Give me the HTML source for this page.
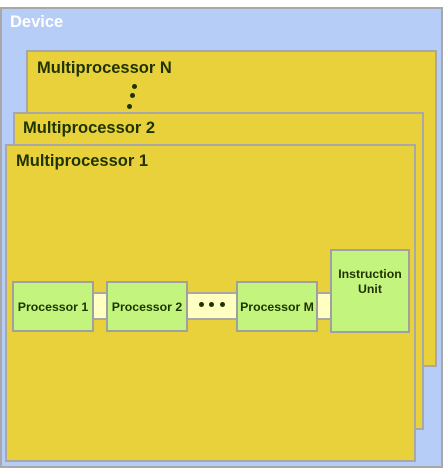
<!DOCTYPE html>
<html><head><style>
body{margin:0;width:448px;height:474px;background:#fff;position:relative;font-family:"Liberation Sans",sans-serif;font-weight:bold;overflow:hidden}
div{position:absolute;box-sizing:border-box}
.mp{background:#e8d13b;border:2px solid #a8a8a8}
.t{color:#1f3300;font-size:16.5px;white-space:nowrap}
.p{background:#c2f47e;border:2px solid #a0a0a0;color:#1f3300;font-size:12.3px;display:flex;align-items:center;justify-content:center;text-align:center}
.d{width:5px;height:5px;border-radius:50%;background:#1f3300}
</style></head><body>
<div style="left:0;top:7px;width:443px;height:461px;background:#b6cdf7;border:2px solid #a8a8a8"></div>
<div class="t" style="left:10px;top:13px;color:#fff">Device</div>
<div class="mp" style="left:26px;top:50px;width:411px;height:317px"></div>
<div class="t" style="left:37px;top:59px">Multiprocessor N</div>
<div class="d" style="left:132px;top:84px"></div>
<div class="d" style="left:130px;top:93px"></div>
<div class="d" style="left:127px;top:104px"></div>
<div class="mp" style="left:13px;top:112px;width:411px;height:318px"></div>
<div class="t" style="left:23px;top:119px">Multiprocessor 2</div>
<div class="mp" style="left:5px;top:144px;width:411px;height:318px"></div>
<div class="t" style="left:16px;top:152px">Multiprocessor 1</div>
<div style="left:92px;top:292px;width:240px;height:28px;background:#ffffc2;border:2px solid #a8a8a8"></div>
<div class="p" style="left:12px;top:281px;width:82px;height:51px">Processor 1</div>
<div class="p" style="left:106px;top:281px;width:82px;height:51px">Processor 2</div>
<div class="d" style="left:199px;top:302px"></div>
<div class="d" style="left:209px;top:302px"></div>
<div class="d" style="left:220px;top:302px"></div>
<div class="p" style="left:236px;top:281px;width:82px;height:51px">Processor M</div>
<div class="p" style="left:330px;top:249px;width:80px;height:84px;align-items:flex-start;padding-top:16px;line-height:15px">Instruction<br>Unit</div>
</body></html>
